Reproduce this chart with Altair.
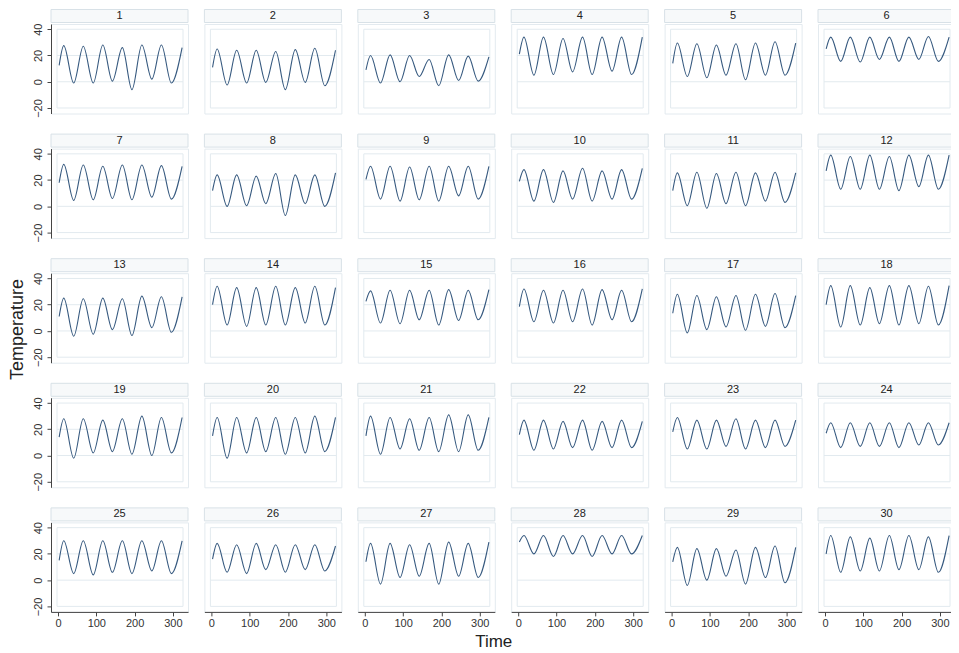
import altair as alt
import pandas as pd

# Shared time positions of the start, each seasonal peak/trough, and the end
TIMES = [3, 15, 41, 66, 92, 117, 142, 168, 193, 219, 245, 270, 296, 324]
PANELS = list(range(1, 31))

# Temperature read at those times: start, peak1, trough1, ..., peak6, trough6, end
S01 = [12.5, 27.5, -1, 27, -1, 28, 0.5, 26, -6, 28, 2, 28, -1, 26]
S02 = [11, 25, -2.5, 24, -1, 24, -0.5, 23, -6, 24.5, -0.5, 25.5, -3, 24]
S03 = [9, 20, -1, 20.5, 0, 20, 4, 17, -3, 20.5, 1, 19.5, 0.5, 19]
S04 = [21, 34, 5, 34, 5.5, 33, 7.5, 34, 5.5, 34, 8, 34, 5.5, 34]
S05 = [14, 29.5, 4, 29, 3, 28, 5, 29, 1.5, 29.5, 5, 30.5, 5, 29.5]
S06 = [25, 34, 15.5, 34, 15, 34, 17, 34, 15.5, 34, 17, 34.5, 15.5, 34]
S07 = [18, 32, 4.5, 31.5, 5, 30.5, 6, 31.5, 5, 31.5, 7, 31, 5.5, 30.5]
S08 = [12, 24, 0, 24, 0.5, 23, 2, 25, -7, 24, 2, 24, 0, 25.5]
S09 = [20.5, 30.5, 5.5, 30.5, 4, 30, 5, 30.5, 4, 30.5, 8, 30.5, 5.5, 30.5]
S10 = [19, 28, 4, 28, 3, 27, 5.5, 29, 4, 27, 5.5, 28, 5.5, 29]
S11 = [12, 25.5, 0.5, 26, -1.5, 25, 2, 26, 0.5, 25.5, 4, 26, 3, 25.5]
S12 = [27, 39, 13, 38, 13, 39, 13, 38, 12, 39, 15, 39, 13, 39]
S13 = [11, 25, -4, 24.5, -2.5, 25, 1, 24.5, -3.5, 26.5, 2.5, 26, -1, 26]
S14 = [20, 34, 4.5, 33, 3.5, 33, 4.5, 34, 4.5, 33, 6, 34, 4.5, 33]
S15 = [22.5, 30.5, 6, 31, 5.5, 31, 8.5, 31, 4.5, 31.5, 8, 31, 8.5, 31.5]
S16 = [18.5, 32, 7, 31, 6, 31, 7, 32, 4.5, 31.5, 8.5, 31, 7, 32]
S17 = [13.5, 28, -1.5, 27, 1, 26, 3, 27, 0.5, 28, 3.5, 28.5, 2.5, 27]
S18 = [20, 34.5, 3, 34.5, 4.5, 33, 5.5, 34.5, 4.5, 34.5, 5.5, 34, 4.5, 34.5]
S19 = [14, 28, -2, 28, 2, 27, 3, 28, 1, 30, 0, 29, 2, 29]
S20 = [15, 29, -2, 29, 2, 29, 3, 29, 1, 29, 2, 30, 3, 29]
S21 = [15, 30, 1, 29, 5, 28, 4, 29, 3, 31, 3, 31, 4, 29]
S22 = [16, 27, 4, 27, 5, 26, 6, 27, 4, 26, 6, 27, 6, 26]
S23 = [18, 29, 5, 27, 5, 27, 7, 28, 5, 27, 6, 27, 7, 27]
S24 = [17, 25, 6, 25, 7, 25, 7, 25, 6, 25, 8, 25, 8, 25]
S25 = [15, 30, 5, 30, 4, 30, 6, 30, 5, 30, 7, 30, 5, 30]
S26 = [16, 28, 6, 27, 5, 28, 8, 27, 6, 27, 8, 27, 7, 26]
S27 = [14, 28, -3, 28, 2, 27, 3, 28, -3, 29, 3, 28, 2, 29]
S28 = [29, 34, 20, 34, 18, 34, 20, 34, 18, 34, 20, 34, 20, 34]
S29 = [14, 25, -4, 24, 0, 24, 3, 23, -3, 25, 2, 26, -2, 25]
S30 = [20, 34, 6, 33, 7, 32, 7, 34, 8, 34, 8, 33, 6, 34]

SERIES = [S01, S02, S03, S04, S05, S06, S07, S08, S09, S10,
          S11, S12, S13, S14, S15, S16, S17, S18, S19, S20,
          S21, S22, S23, S24, S25, S26, S27, S28, S29, S30]

X_TICKS = [0, 100, 200, 300]
Y_TICKS = [-20, 0, 20, 40]

records = []
for panel, vals in zip(PANELS, SERIES):
    for k, (t, v) in enumerate(zip(TIMES, vals)):
        records.append({"panel": panel, "time": t, "temp": v, "k": k})
df = pd.DataFrame(records)

W = 137
H = 89.5
NCOL = 6
LINE = "#36597f"
FONT = "Liberation Sans"
AXIS_C = "#444444"
GRID_C = "#e2eaef"

X_SCALE = alt.Scale(domain=[-18.3, 339.4], nice=False, zero=False)
Y_SCALE = alt.Scale(domain=[-24.2, 44], nice=False, zero=False)
X_AXIS = alt.Axis(values=X_TICKS, title=None, grid=False, labelFontSize=11,
                  tickSize=4, labelPadding=2, domainColor=AXIS_C,
                  tickColor=AXIS_C, labelColor="#333333", labelFont=FONT,
                  labelOverlap=False)
Y_AXIS = alt.Axis(values=Y_TICKS, title=None, grid=False, labelAngle=270,
                  labelAlign="center", labelBaseline="bottom", labelFontSize=11,
                  tickSize=4, labelPadding=4, domainColor=AXIS_C,
                  tickColor=AXIS_C, labelColor="#333333", labelFont=FONT,
                  labelOverlap=False, labelBound=False, labelFlush=False)

base = alt.Chart(df)


def panel_chart(idx, panel):
    col = idx % NCOL
    row = idx // NCOL
    yax = Y_AXIS if col == 0 else None
    xax = X_AXIS if row == len(PANELS) // NCOL - 1 else None

    def yenc(**kw):
        if yax is None:
            return alt.Y(scale=Y_SCALE, axis=None, **kw)
        return alt.Y(scale=Y_SCALE, axis=yax, **kw)

    data = base.transform_filter(alt.datum.panel == panel)
    first = data.transform_filter("datum.k == 0")

    box = first.mark_rect(filled=False, color=GRID_C, strokeWidth=1).encode(
        x=alt.value(6), x2=alt.value(W - 5),
        y=yenc(datum=40, type="quantitative"), y2=alt.Y2(datum=-20))
    rule0 = first.mark_rule(color=GRID_C, strokeWidth=1).encode(
        x=alt.value(6), x2=alt.value(W - 5), y=yenc(datum=0, type="quantitative"))
    rule20 = first.mark_rule(color=GRID_C, strokeWidth=1).encode(
        x=alt.value(6), x2=alt.value(W - 5), y=yenc(datum=20, type="quantitative"))
    header = first.mark_rect(fill="#f7f9fa", stroke="#d8e1e7", strokeWidth=1).encode(
        x=alt.value(0), x2=alt.value(W), y=alt.value(-14.5), y2=alt.value(-1.5))
    header_text = first.mark_text(fontSize=11, color="#222222", font=FONT,
                                  baseline="middle", align="center").encode(
        text="panel:N", x=alt.value(W / 2), y=alt.value(-8))
    if xax is None:
        xenc = alt.X("time:Q", scale=X_SCALE, axis=None)
    else:
        xenc = alt.X("time:Q", scale=X_SCALE, axis=xax)
    line = data.mark_line(interpolate="monotone", color=LINE, strokeWidth=1.1).encode(
        x=xenc, y=yenc(field="temp", type="quantitative"))
    return alt.layer(box, rule0, rule20, header, header_text, line).properties(
        width=W, height=H)


rows = []
for r in range(len(PANELS) // NCOL):
    charts = [panel_chart(r * NCOL + c, PANELS[r * NCOL + c]) for c in range(NCOL)]
    rows.append(alt.hconcat(*charts, spacing=16.4, bounds="flush"))

grid = alt.vconcat(*rows, spacing=14.6).properties(
    title=alt.TitleParams("Time", orient="bottom", anchor="middle", fontSize=17,
                          fontWeight="normal", font=FONT, color="#222222", offset=5),
)

chart = alt.hconcat(grid).properties(
    title=alt.TitleParams("Temperature", orient="left", anchor="middle", fontSize=18,
                          fontWeight="normal", font=FONT, color="#222222", offset=5),
    padding={"left": 0, "top": 0, "right": -5, "bottom": 0},
).configure_view(stroke="#e3eaef", strokeWidth=1)

chart.save("out.html", embed_options={"renderer": "svg", "actions": False})
